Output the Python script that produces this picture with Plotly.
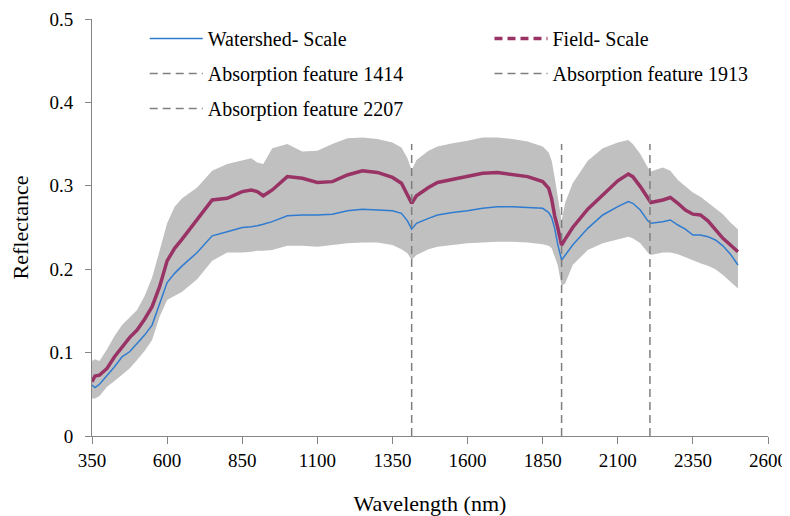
import plotly.graph_objects as go

wavelength = [350, 360, 375, 400, 425, 450, 475, 500, 525, 550, 575, 600, 625, 650, 700, 750,
              800, 850, 880, 900, 920, 950, 1000, 1050, 1100, 1150, 1200, 1250, 1300, 1350,
              1380, 1400, 1414, 1430, 1470, 1500, 1550, 1600, 1650, 1700, 1750, 1800, 1850,
              1870, 1880, 1890, 1900, 1913, 1925, 1950, 2000, 2050, 2100, 2135, 2150, 2175,
              2200, 2210, 2250, 2275, 2300, 2325, 2350, 2375, 2400, 2425, 2450, 2475, 2500]

field_scale = [0.065, 0.072, 0.073, 0.081, 0.095, 0.107, 0.118, 0.127, 0.140, 0.155, 0.179, 0.210,
               0.225, 0.236, 0.259, 0.283, 0.285, 0.293, 0.295, 0.293, 0.288, 0.295, 0.311, 0.309,
               0.304, 0.305, 0.313, 0.318, 0.316, 0.310, 0.303, 0.290, 0.279, 0.288, 0.298, 0.304,
               0.308, 0.312, 0.315, 0.316, 0.314, 0.311, 0.305, 0.297, 0.284, 0.264, 0.250, 0.229,
               0.236, 0.250, 0.272, 0.289, 0.306, 0.314, 0.311, 0.299, 0.285, 0.280, 0.283, 0.286,
               0.279, 0.271, 0.266, 0.265, 0.258, 0.247, 0.237, 0.229, 0.221]

watershed_scale = [0.061, 0.058, 0.062, 0.072, 0.083, 0.095, 0.101, 0.111, 0.121, 0.133, 0.158, 0.184,
                   0.195, 0.204, 0.220, 0.240, 0.245, 0.250, 0.251, 0.252, 0.254, 0.257, 0.264, 0.265,
                   0.265, 0.266, 0.270, 0.272, 0.271, 0.270, 0.267, 0.258, 0.248, 0.255, 0.261, 0.265,
                   0.268, 0.270, 0.273, 0.275, 0.275, 0.274, 0.273, 0.268, 0.262, 0.249, 0.230, 0.211,
                   0.217, 0.229, 0.249, 0.265, 0.275, 0.281, 0.279, 0.271, 0.258, 0.255, 0.257, 0.259,
                   0.253, 0.248, 0.241, 0.241, 0.239, 0.235, 0.228, 0.218, 0.205]

band_upper = [0.090, 0.092, 0.090, 0.104, 0.120, 0.133, 0.142, 0.151, 0.168, 0.190, 0.222, 0.255,
              0.275, 0.285, 0.298, 0.318, 0.326, 0.330, 0.333, 0.328, 0.326, 0.345, 0.350, 0.341,
              0.342, 0.350, 0.357, 0.358, 0.356, 0.352, 0.346, 0.333, 0.319, 0.331, 0.342, 0.347,
              0.351, 0.354, 0.358, 0.358, 0.356, 0.353, 0.347, 0.340, 0.330, 0.310, 0.285, 0.258,
              0.280, 0.303, 0.330, 0.345, 0.352, 0.355, 0.350, 0.338, 0.322, 0.317, 0.322, 0.318,
              0.307, 0.300, 0.292, 0.287, 0.280, 0.273, 0.266, 0.256, 0.248]

band_lower = [0.045, 0.045, 0.048, 0.059, 0.066, 0.073, 0.081, 0.091, 0.102, 0.115, 0.143, 0.163,
              0.168, 0.173, 0.188, 0.210, 0.220, 0.220, 0.221, 0.222, 0.222, 0.223, 0.228, 0.228,
              0.227, 0.229, 0.231, 0.232, 0.232, 0.229, 0.224, 0.219, 0.211, 0.217, 0.224, 0.227,
              0.229, 0.231, 0.232, 0.233, 0.233, 0.232, 0.230, 0.228, 0.225, 0.215, 0.205, 0.180,
              0.183, 0.205, 0.223, 0.231, 0.236, 0.239, 0.237, 0.231, 0.220, 0.217, 0.220, 0.220,
              0.218, 0.214, 0.211, 0.207, 0.204, 0.200, 0.193, 0.185, 0.177]

absorption_features = [1414, 1913, 2207]
absorption_top = 0.35
absorption_legend = ["legend", "legend2", "legend"]

FONT = "Liberation Serif"
BLUE = "#2F7BD0"
PURPLE = "#993366"
GRAY_DASH = "#7F7F7F"
AXIS = "#868686"

fig = go.Figure()

fig.add_trace(go.Scatter(x=wavelength, y=band_upper, mode="lines", line=dict(width=0),
                         showlegend=False, hoverinfo="skip"))
fig.add_trace(go.Scatter(x=wavelength, y=band_lower, mode="lines", line=dict(width=0),
                         fill="tonexty", fillcolor="#C0C0C0", showlegend=False, hoverinfo="skip"))

abs_traces = []
for w, lg in zip(absorption_features, absorption_legend):
    abs_traces.append(go.Scatter(x=[w, w], y=[0, absorption_top], mode="lines",
                                 line=dict(color=GRAY_DASH, width=1.5, dash="8px,5px"),
                                 name=f"Absorption feature {w}", legend=lg,
                                 legendgroup=f"a{w}"))

fig.add_trace(go.Scatter(x=wavelength, y=field_scale, mode="lines",
                         line=dict(color=PURPLE, width=3.5), showlegend=False))
fig.add_trace(go.Scatter(x=wavelength, y=watershed_scale, mode="lines",
                         line=dict(color=BLUE, width=1.5), name="Watershed- Scale",
                         legend="legend", legendgroup="ws", legendrank=1))
fig.add_trace(go.Scatter(x=[None], y=[None], mode="lines",
                         line=dict(color=PURPLE, width=3.5, dash="8px,5px"), name="Field- Scale",
                         legend="legend2", legendgroup="fs", legendrank=1))
for i, t in enumerate(abs_traces):
    t.legendrank = 2 + i
    fig.add_trace(t)

legend_common = dict(xanchor="left", yanchor="top", traceorder="grouped", tracegroupgap=6,
                     itemwidth=53, bgcolor="rgba(0,0,0,0)",
                     font=dict(family=FONT, size=20, color="#000000"),
                     itemclick=False, itemdoubleclick=False)

fig.update_layout(
    width=782, height=508,
    margin=dict(l=84, r=22, t=11, b=80),
    paper_bgcolor="white", plot_bgcolor="white",
    font=dict(family=FONT, size=19, color="#000000"),
    legend=dict(x=0.078, y=1.0, **legend_common),
    legend2=dict(x=0.588, y=1.0, **legend_common),
    xaxis=dict(range=[350, 2600], tick0=350, dtick=250, showgrid=False, zeroline=False,
               automargin=False,
               showline=True, linecolor=AXIS, linewidth=1, ticks="outside", ticklen=7,
               tickcolor=AXIS, tickfont=dict(family=FONT, size=19, color="#000000"),
               title=dict(text="Wavelength (nm)", font=dict(family=FONT, size=22), standoff=27)),
    yaxis=dict(range=[0, 0.5], dtick=0.1, showgrid=False, zeroline=False,
               automargin=False, ticklabelstandoff=8,
               showline=True, linecolor=AXIS, linewidth=1, ticks="outside", ticklen=6,
               tickcolor=AXIS, tickfont=dict(family=FONT, size=19, color="#000000"),
               title=dict(text="Reflectance", font=dict(family=FONT, size=22), standoff=24)),
)

fig.write_html("out.html")
